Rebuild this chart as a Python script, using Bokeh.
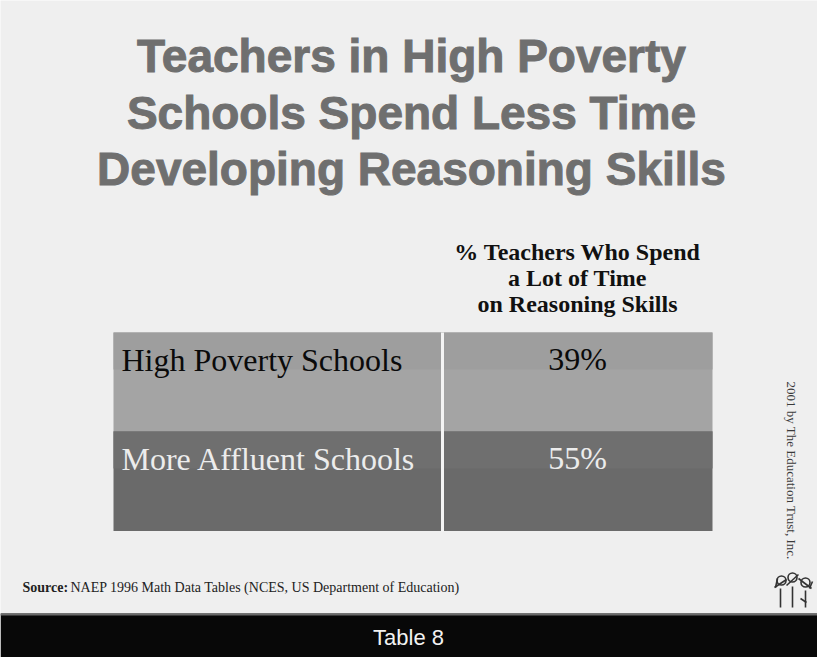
import math
from bokeh.plotting import figure
from bokeh.models import Range1d
from bokeh.core.properties import value
from bokeh.embed import file_html
from bokeh.resources import INLINE

# ---- data ----
title_lines = ["Teachers in High Poverty", "Schools Spend Less Time", "Developing Reasoning Skills"]
header_lines = ["% Teachers Who Spend", "a Lot of Time", "on Reasoning Skills"]
row_labels = ["High Poverty Schools", "More Affluent Schools"]
row_values = [39, 55]
source_label = "Source:"
source_text = "NAEP 1996 Math Data Tables (NCES, US Department of Education)"
credit_text = "2001 by The Education Trust, Inc."
footer_text = "Table 8"

W, H = 817, 657
p = figure(width=W, height=H, output_backend="svg", toolbar_location=None,
           x_range=Range1d(0, W), y_range=Range1d(H, 0),
           min_border=0, background_fill_color="#efefef", border_fill_color="#efefef")
p.axis.visible = False
p.grid.visible = False
p.outline_line_color = None

# ---- title ----
p.text(x=[411] * 3, y=[55, 112, 168], text=title_lines, text_align="center",
       text_baseline="alphabetic", text_font=value("Liberation Sans"), text_font_style="bold",
       text_font_size="46px", text_color="#6f6f6f", text_outline_color="#6f6f6f")

# ---- column header ----
p.text(x=[577] * 3, y=[251, 277, 303], text=header_lines, text_align="center",
       text_baseline="alphabetic", text_font=value("Liberation Serif"), text_font_style="bold",
       text_font_size="24px", text_color="#111111")

# ---- table cells ----
row_top = [332, 431]
row_h = 99.5
fills = ["#a4a4a4", "#6a6a6a"]
band_fills = ["#9e9e9e", "#6f6f6f"]
bottoms = [t + row_h for t in row_top]
p.quad(left=[113, 113], right=[712, 712], top=row_top, bottom=bottoms,
       fill_color=fills, line_color=None)
p.quad(left=[113, 113], right=[712, 712], top=row_top, bottom=[t + 37 for t in row_top],
       fill_color=band_fills, line_color=None)
p.segment(x0=[442], y0=[332], x1=[442], y1=[531], line_color="#f4f4f4", line_width=3)

label_colors = ["#0a0a0a", "#ececec"]
p.text(x=[121, 121], y=[t + 27 for t in row_top], text=row_labels, text_align="left",
       text_baseline="alphabetic", text_font=value("Liberation Serif"),
       text_font_size="32px", text_color=label_colors)
p.text(x=[577, 577], y=[t + 26 for t in row_top], text=[f"{v}%" for v in row_values],
       text_align="center", text_baseline="alphabetic", text_font=value("Liberation Serif"),
       text_font_size="32px", text_color=label_colors)

# ---- source ----
p.text(x=[22], y=[587], text=[source_label], text_baseline="alphabetic",
       text_font=value("Liberation Serif"), text_font_style="bold",
       text_font_size="14px", text_color="#222222")
p.text(x=[70], y=[587], text=[source_text], text_baseline="alphabetic",
       text_font=value("Liberation Serif"), text_font_size="14px", text_color="#222222")

# ---- credit (vertical) ----
p.text(x=[791], y=[381], text=[credit_text], angle=-math.pi / 2, text_align="left",
       text_baseline="middle", text_font=value("Liberation Serif"),
       text_font_size="13px", text_color="#3a3a3a")

# ---- logo (simple stick figures) ----
p.multi_line(xs=[[780, 780], [792, 792], [805, 805], [774, 786], [786, 798], [798, 811],
                 [775, 777], [809, 812], [800, 806]],
             ys=[[588, 607], [586, 607], [590, 607], [587, 579], [585, 574], [578, 588],
                 [587, 578], [588, 581], [598, 602]],
             line_color="#333333", line_width=1.6)
p.scatter(x=[781, 792, 805], y=[580, 577, 582], size=9, marker="circle",
          fill_color=None, line_color="#333333", line_width=1.6)

# ---- footer bar ----
p.quad(left=[0], right=[W], top=[613], bottom=[H], fill_color="#080808", line_color=None)
p.segment(x0=[0], y0=[614], x1=[W], y1=[614], line_color="#6a6a6a", line_width=2)
p.text(x=[408], y=[637], text=[footer_text], text_align="center", text_baseline="alphabetic",
       text_font=value("Liberation Sans"), text_font_size="22px", text_color="#f2f2f2")

open("out.html", "w").write(file_html(p, INLINE))
